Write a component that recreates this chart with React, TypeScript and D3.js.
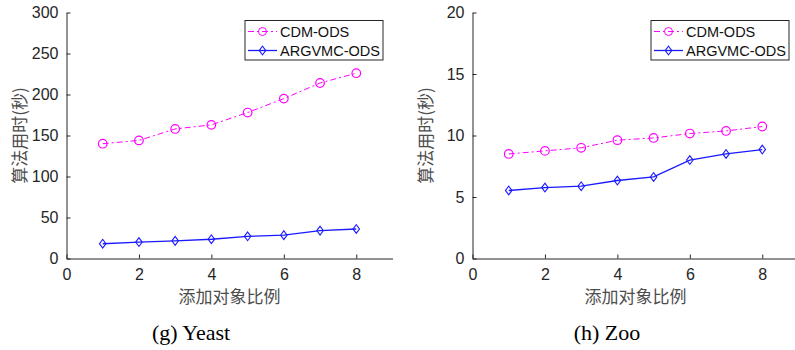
import React, { useRef, useEffect } from "react";
import * as d3 from "d3";

// x values (添加对象比例)
const ratios = [1, 2, 3, 4, 5, 6, 7, 8];

// Yeast panel
const yeastCDM = [140, 144, 158, 163, 178, 195, 214, 226];
const yeastARG = [18, 20, 21.5, 23.5, 27, 28.5, 34, 36];

// Zoo panel
const zooCDM = [8.5, 8.75, 9.0, 9.62, 9.8, 10.16, 10.37, 10.73];
const zooARG = [5.53, 5.77, 5.88, 6.34, 6.63, 8.0, 8.5, 8.86];

const xTicks = [0, 2, 4, 6, 8];
const yeastTicks = [0, 50, 100, 150, 200, 250, 300];
const zooTicks = [0, 5, 10, 15, 20];

const seriesNames = ["CDM-ODS", "ARGVMC-ODS"];
const xLabel = "添加对象比例";
const yLabel = "算法用时(秒)";

interface Panel {
  left: number;
  cdm: number[];
  arg: number[];
  yMax: number;
  yTicks: number[];
  caption: string;
  captionX: number;
}

const panels: Panel[] = [
  { left: 66.5, cdm: yeastCDM, arg: yeastARG, yMax: 300, yTicks: yeastTicks, caption: "(g) Yeast", captionX: 191 },
  { left: 472.5, cdm: zooCDM, arg: zooARG, yMax: 20, yTicks: zooTicks, caption: "(h) Zoo", captionX: 607 },
];

const magenta = "#ff00ff";
const blue = "#1a1aff";
const axisColor = "#262626";
const sans = "'Liberation Sans', Arial, sans-serif";
const cjk = "'Noto Sans CJK SC', sans-serif";

const App: React.FC = () => {
  const svgRef = useRef<SVGSVGElement | null>(null);

  useEffect(() => {
    const svg = d3.select(svgRef.current);
    svg.selectAll("*").remove();

    const plotW = 326;
    const top = 12.5;
    const bottom = 258.5;

    panels.forEach((p) => {
      const g = svg.append("g");
      const x = d3.scaleLinear().domain([0, 9]).range([p.left, p.left + plotW]);
      const y = d3.scaleLinear().domain([0, p.yMax]).range([bottom, top]);

      // axes (MATLAB style, inward ticks)
      const xAxis = d3.axisBottom(x).tickValues(xTicks).tickSizeInner(-4).tickSizeOuter(0).tickPadding(10);
      const gx = g.append("g").attr("transform", `translate(0,${bottom})`).call(xAxis);
      const yAxis = d3.axisLeft(y).tickValues(p.yTicks).tickSizeInner(-4).tickSizeOuter(0).tickPadding(8);
      const gy = g.append("g").attr("transform", `translate(${p.left},0)`).call(yAxis);
      [gx, gy].forEach((a) => {
        a.select(".domain").attr("stroke", axisColor);
        a.selectAll(".tick line").attr("stroke", axisColor);
        a.selectAll(".tick text").attr("fill", axisColor).style("font-family", sans).style("font-size", "16px");
      });

      // lines
      const line = d3
        .line<number>()
        .x((_, i) => x(ratios[i]))
        .y((d) => y(d));

      g.append("path")
        .attr("d", line(p.cdm))
        .attr("fill", "none")
        .attr("stroke", magenta)
        .attr("stroke-width", 1)
        .attr("stroke-dasharray", "6,3,2,3");
      g.selectAll(".c")
        .data(p.cdm)
        .enter()
        .append("circle")
        .attr("cx", (_, i) => x(ratios[i]))
        .attr("cy", (d) => y(d))
        .attr("r", 4.3)
        .attr("fill", "none")
        .attr("stroke", magenta)
        .attr("stroke-width", 1.2);

      g.append("path")
        .attr("d", line(p.arg))
        .attr("fill", "none")
        .attr("stroke", blue)
        .attr("stroke-width", 1.3);
      const diamond = d3.symbol().type(d3.symbolDiamond2).size(48);
      g.selectAll(".d")
        .data(p.arg)
        .enter()
        .append("path")
        .attr("d", diamond)
        .attr("transform", (d, i) => `translate(${x(ratios[i])},${y(d)}) scale(0.75,1)`)
        .attr("fill", "none")
        .attr("stroke", blue)
        .attr("stroke-width", 1.3);

      // axis labels
      g.append("text")
        .attr("x", x(4.5))
        .attr("y", 303)
        .attr("text-anchor", "middle")
        .attr("fill", "#4d4d4d")
        .style("font-family", cjk)
        .style("font-size", "17px")
        .text(xLabel);
      g.append("text")
        .attr("transform", `translate(${p.left - 46},${(top + bottom) / 2}) rotate(-90)`)
        .attr("text-anchor", "middle")
        .attr("dy", "0.35em")
        .attr("fill", "#4d4d4d")
        .style("font-family", cjk)
        .style("font-size", "17px")
        .text(yLabel);

      // caption
      g.append("text")
        .attr("x", p.captionX)
        .attr("y", 340)
        .attr("text-anchor", "middle")
        .attr("fill", "#000")
        .style("font-family", "'Liberation Serif', 'Times New Roman', serif")
        .style("font-size", "22px")
        .text(p.caption);

      // legend
      const lx = p.left + 178.5;
      const lg = g.append("g").attr("transform", `translate(${lx},20.5)`);
      lg.append("rect")
        .attr("width", 138)
        .attr("height", 39.5)
        .attr("fill", "#fff")
        .attr("stroke", axisColor)
        .attr("stroke-width", 1);
      seriesNames.forEach((name, i) => {
        const yy = 11 + i * 19;
        const color = i === 0 ? magenta : blue;
        lg.append("line")
          .attr("x1", 3)
          .attr("x2", 32)
          .attr("y1", yy)
          .attr("y2", yy)
          .attr("stroke", color)
          .attr("stroke-width", i === 0 ? 1 : 1.3)
          .attr("stroke-dasharray", i === 0 ? "6,3,2,3" : null);
        if (i === 0) {
          lg.append("circle").attr("cx", 17.5).attr("cy", yy).attr("r", 4).attr("fill", "none").attr("stroke", color);
        } else {
          lg.append("path")
            .attr("d", diamond)
            .attr("transform", `translate(17.5,${yy}) scale(0.75,1)`)
            .attr("fill", "none")
            .attr("stroke", color)
            .attr("stroke-width", 1.3);
        }
        lg.append("text")
          .attr("x", 35)
          .attr("y", yy)
          .attr("dy", "0.35em")
          .attr("fill", "#111")
          .style("font-family", sans)
          .style("font-size", "14.5px")
          .text(name);
      });
    });
  }, []);

  return (
    <svg
      ref={svgRef}
      width={795}
      height={350}
      style={{ position: "absolute", left: 0, top: 0, background: "#fff" }}
    />
  );
};

export default App;
